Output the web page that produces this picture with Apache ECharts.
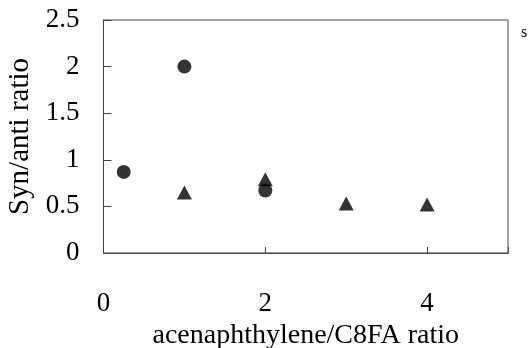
<!DOCTYPE html>
<html><head><meta charset="utf-8">
<script src="https://cdn.jsdelivr.net/npm/echarts@6/dist/echarts.min.js"></script>
<style>html,body{margin:0;padding:0;background:#fff}#c{width:532px;height:348px}</style>
</head><body><div id="c"></div>
<script>
const circleX = [0.25, 1, 2];
const circleY = [0.87, 2.0, 0.67];
const triangleX = [1, 2, 3, 4];
const triangleY = [0.65, 0.79, 0.53, 0.52];
const xTicks = [0, 2, 4];
const yTicks = [0, 0.5, 1, 1.5, 2, 2.5];
const xTitle = 'acenaphthylene/C8FA ratio';
const yTitle = 'Syn/anti ratio';

const font = 'Liberation Serif';
const chart = echarts.init(document.getElementById('c'), null, {renderer: 'canvas'});
chart.setOption({
  animation: false,
  backgroundColor: '#fff',
  grid: {left: 103.5, right: 24, top: 20, bottom: 95, show: true, borderColor: '#444', borderWidth: 1,
         containLabel: false, outerBoundsMode: 'none'},
  xAxis: {
    type: 'value', min: 0, max: 5, interval: 2,
    name: xTitle, nameLocation: 'middle', nameGap: 64,
    nameTextStyle: {fontFamily: font, fontSize: 28, color: '#000'},
    axisLine: {show: true, lineStyle: {color: '#444'}},
    axisTick: {show: true, inside: true, length: 6, lineStyle: {color: '#444'}},
    axisLabel: {fontFamily: font, fontSize: 27, color: '#000', margin: 37,
      formatter: v => xTicks.includes(v) ? String(v) : ''},
    splitLine: {show: false}
  },
  yAxis: {
    type: 'value', min: 0, max: 2.5, interval: 0.5,
    name: yTitle, nameLocation: 'middle', nameGap: 68,
    nameTextStyle: {fontFamily: font, fontSize: 29, color: '#000'},
    axisLine: {show: true, lineStyle: {color: '#444'}},
    axisTick: {show: true, inside: true, length: 8, lineStyle: {color: '#444'}},
    axisLabel: {fontFamily: font, fontSize: 27, color: '#000', margin: 24,
      formatter: v => yTicks.includes(v) ? String(v) : ''},
    splitLine: {show: false}
  },
  series: [
    {type: 'scatter', symbol: 'circle', symbolSize: 14, itemStyle: {color: '#000'},
     data: circleX.map((x, i) => [x, circleY[i]])},
    {type: 'scatter', symbol: 'triangle', symbolSize: [15, 14], itemStyle: {color: '#000'},
     data: triangleX.map((x, i) => [x, triangleY[i]])}
  ],
  graphic: [{type: 'text', left: 521, top: 25, style: {text: 's', fontFamily: font, fontSize: 16, fill: '#000'}}]
});
</script></body></html>
